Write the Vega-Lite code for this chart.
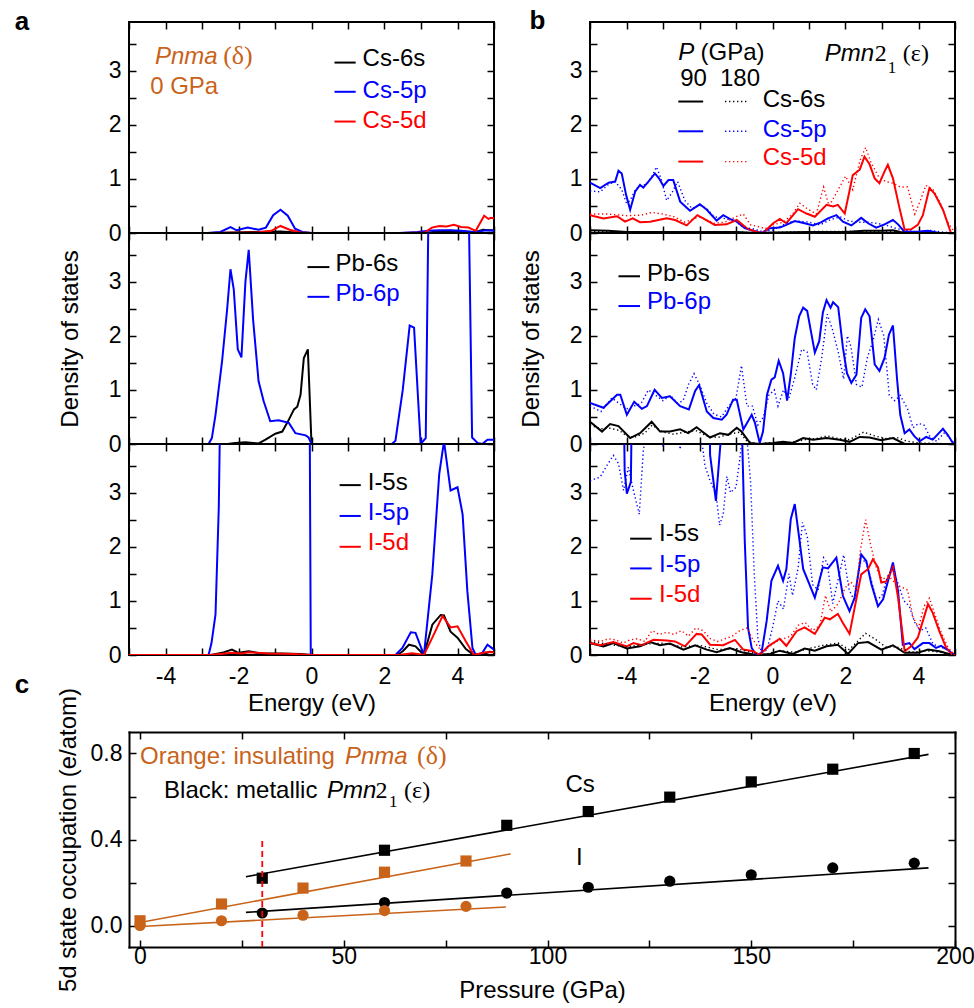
{
"$schema":"https://vega.github.io/schema/vega-lite/v6.json",
"background":"white",
"padding":{"left":13,"top":7,"right":5,"bottom":5},
"config":{
 "view":{"stroke":"#000000","strokeWidth":2},
 "axis":{"domain":false,"grid":false,"tickColor":"#000000","tickWidth":1.5,"tickSize":-7,"labelFont":"Liberation Sans","labelFontSize":23,"labelColor":"#000000","titleFont":"Liberation Sans","titleFontSize":24,"titleFontWeight":"normal","titleColor":"#000000","labelOverlap":false,"labelFlush":false,"labelBound":false,"domainColor":"#000000","domainWidth":2,"domainCap":"square"},
 "text":{"font":"Liberation Sans","fontSize":24,"baseline":"alphabetic","align":"left"},
 "rule":{"strokeWidth":2},
 "line":{"strokeWidth":2}
},
"datasets":{
"aCs":[
{"o":"s","E":-5,"D":0},{"o":"s","E":-2.8,"D":0},{"o":"s","E":-2.2,"D":0.01},{"o":"s","E":-1.6,"D":0.02},{"o":"s","E":-0.85,"D":0.03},{"o":"s","E":-0.4,"D":0.01},{"o":"s","E":0,"D":0},{"o":"s","E":3.2,"D":0},{"o":"s","E":3.4,"D":0.03},{"o":"s","E":3.8,"D":0.04},{"o":"s","E":4.2,"D":0.03},{"o":"s","E":4.5,"D":0.02},{"o":"s","E":4.7,"D":0.06},{"o":"s","E":4.85,"D":0.05},{"o":"s","E":5,"D":0.05},
{"o":"p","E":-5,"D":0},{"o":"p","E":-2.85,"D":0},{"o":"p","E":-2.5,"D":0.02},{"o":"p","E":-2.22,"D":0.11},{"o":"p","E":-2.05,"D":0.05},{"o":"p","E":-1.75,"D":0.1},{"o":"p","E":-1.45,"D":0.06},{"o":"p","E":-1.25,"D":0.1},{"o":"p","E":-1.05,"D":0.33},{"o":"p","E":-0.85,"D":0.43},{"o":"p","E":-0.65,"D":0.32},{"o":"p","E":-0.45,"D":0.08},{"o":"p","E":-0.25,"D":0.02},{"o":"p","E":0,"D":0},{"o":"p","E":2.4,"D":0},{"o":"p","E":2.9,"D":0.02},{"o":"p","E":3.2,"D":0.04},{"o":"p","E":3.5,"D":0.05},{"o":"p","E":3.8,"D":0.05},{"o":"p","E":4.1,"D":0.04},{"o":"p","E":4.4,"D":0.02},{"o":"p","E":4.6,"D":0.03},{"o":"p","E":4.8,"D":0.05},{"o":"p","E":5,"D":0.04},
{"o":"d","E":-5,"D":0},{"o":"d","E":-2.8,"D":0},{"o":"d","E":-1.5,"D":0.01},{"o":"d","E":-1.1,"D":0.04},{"o":"d","E":-0.85,"D":0.13},{"o":"d","E":-0.6,"D":0.06},{"o":"d","E":-0.3,"D":0.01},{"o":"d","E":0,"D":0},{"o":"d","E":2.5,"D":0},{"o":"d","E":3.1,"D":0.01},{"o":"d","E":3.3,"D":0.1},{"o":"d","E":3.5,"D":0.13},{"o":"d","E":3.7,"D":0.12},{"o":"d","E":3.9,"D":0.15},{"o":"d","E":4.1,"D":0.11},{"o":"d","E":4.3,"D":0.1},{"o":"d","E":4.5,"D":0.04},{"o":"d","E":4.73,"D":0.32},{"o":"d","E":4.85,"D":0.26},{"o":"d","E":4.92,"D":0.28},{"o":"d","E":5,"D":0.27}
],
"aPb":[
{"o":"s","E":-5,"D":0},{"o":"s","E":-2.3,"D":0},{"o":"s","E":-2.09,"D":0.02},{"o":"s","E":-1.81,"D":0.03},{"o":"s","E":-1.45,"D":0.01},{"o":"s","E":-1.26,"D":0.08},{"o":"s","E":-0.99,"D":0.19},{"o":"s","E":-0.8,"D":0.23},{"o":"s","E":-0.62,"D":0.45},{"o":"s","E":-0.48,"D":0.64},{"o":"s","E":-0.39,"D":0.69},{"o":"s","E":-0.3,"D":0.91},{"o":"s","E":-0.21,"D":1.59},{"o":"s","E":-0.1,"D":1.75},{"o":"s","E":0,"D":0},{"o":"s","E":5,"D":0},
{"o":"p","E":-5,"D":0},{"o":"p","E":-2.82,"D":0},{"o":"p","E":-2.73,"D":0.11},{"o":"p","E":-2.63,"D":0.54},{"o":"p","E":-2.45,"D":1.53},{"o":"p","E":-2.31,"D":2.5},{"o":"p","E":-2.22,"D":3.23},{"o":"p","E":-2.13,"D":2.86},{"o":"p","E":-2.02,"D":1.75},{"o":"p","E":-1.92,"D":1.6},{"o":"p","E":-1.81,"D":3.0},{"o":"p","E":-1.72,"D":3.59},{"o":"p","E":-1.6,"D":2.3},{"o":"p","E":-1.45,"D":1.16},{"o":"p","E":-1.31,"D":0.79},{"o":"p","E":-1.13,"D":0.42},{"o":"p","E":-0.9,"D":0.44},{"o":"p","E":-0.62,"D":0.39},{"o":"p","E":-0.44,"D":0.2},{"o":"p","E":-0.16,"D":0.16},{"o":"p","E":-0.08,"D":0.12},{"o":"p","E":0,"D":0},{"o":"p","E":2.2,"D":0},{"o":"p","E":2.3,"D":0.06},{"o":"p","E":2.5,"D":1.0},{"o":"p","E":2.69,"D":2.19},{"o":"p","E":2.81,"D":2.15},{"o":"p","E":2.99,"D":0},{"o":"p","E":3.13,"D":0.11},{"o":"p","E":3.27,"D":8},{"o":"p","E":4.23,"D":8},{"o":"p","E":4.4,"D":0.12},{"o":"p","E":4.55,"D":0.02},{"o":"p","E":4.68,"D":0},{"o":"p","E":4.82,"D":0.08},{"o":"p","E":5,"D":0.08}
],
"aI":[
{"o":"s","E":-5,"D":0},{"o":"s","E":-2.75,"D":0},{"o":"s","E":-2.45,"D":0.04},{"o":"s","E":-2.18,"D":0.1},{"o":"s","E":-2.0,"D":0.04},{"o":"s","E":-1.72,"D":0.07},{"o":"s","E":-1.4,"D":0.03},{"o":"s","E":-0.8,"D":0.03},{"o":"s","E":-0.3,"D":0.02},{"o":"s","E":0,"D":0},{"o":"s","E":2.35,"D":0},{"o":"s","E":2.5,"D":0.07},{"o":"s","E":2.67,"D":0.19},{"o":"s","E":2.85,"D":0.16},{"o":"s","E":3.08,"D":0},{"o":"s","E":3.31,"D":0.56},{"o":"s","E":3.54,"D":0.74},{"o":"s","E":3.63,"D":0.73},{"o":"s","E":3.81,"D":0.43},{"o":"s","E":4.0,"D":0.32},{"o":"s","E":4.23,"D":0.11},{"o":"s","E":4.41,"D":0.02},{"o":"s","E":4.68,"D":0},{"o":"s","E":4.87,"D":0.06},{"o":"s","E":5,"D":0.05},
{"o":"p","E":-5,"D":0},{"o":"p","E":-2.82,"D":0},{"o":"p","E":-2.74,"D":0.22},{"o":"p","E":-2.63,"D":0.75},{"o":"p","E":-2.54,"D":2.73},{"o":"p","E":-2.47,"D":6},{"o":"p","E":-0.06,"D":6},{"o":"p","E":-0.02,"D":0},{"o":"p","E":2.3,"D":0},{"o":"p","E":2.49,"D":0.13},{"o":"p","E":2.72,"D":0.42},{"o":"p","E":2.85,"D":0.41},{"o":"p","E":3.08,"D":0},{"o":"p","E":3.31,"D":1.49},{"o":"p","E":3.5,"D":3.35},{"o":"p","E":3.63,"D":3.95},{"o":"p","E":3.81,"D":3.04},{"o":"p","E":4.0,"D":3.1},{"o":"p","E":4.14,"D":2.6},{"o":"p","E":4.27,"D":1.18},{"o":"p","E":4.41,"D":0.13},{"o":"p","E":4.5,"D":0},{"o":"p","E":4.68,"D":0.04},{"o":"p","E":4.82,"D":0.19},{"o":"p","E":5,"D":0.1},
{"o":"d","E":-5,"D":0},{"o":"d","E":-2.8,"D":0},{"o":"d","E":-2.5,"D":0.02},{"o":"d","E":-2.18,"D":0.04},{"o":"d","E":-1.9,"D":0.03},{"o":"d","E":-1.72,"D":0.05},{"o":"d","E":-1.2,"D":0.03},{"o":"d","E":-0.5,"D":0.02},{"o":"d","E":0,"D":0},{"o":"d","E":2.4,"D":0},{"o":"d","E":2.76,"D":0.03},{"o":"d","E":3.08,"D":0},{"o":"d","E":3.31,"D":0.32},{"o":"d","E":3.59,"D":0.72},{"o":"d","E":3.81,"D":0.51},{"o":"d","E":4.0,"D":0.53},{"o":"d","E":4.23,"D":0.25},{"o":"d","E":4.45,"D":0},{"o":"d","E":4.77,"D":0.05},{"o":"d","E":5,"D":0.05}
],
"bCs":[
{"o":"s","P":90,"E":-5,"D":0.05},{"o":"s","P":90,"E":-4.5,"D":0.04},{"o":"s","P":90,"E":-4,"D":0.02},{"o":"s","P":90,"E":-3,"D":0.02},{"o":"s","P":90,"E":-2,"D":0.02},{"o":"s","P":90,"E":-1,"D":0.02},{"o":"s","P":90,"E":-0.4,"D":0},{"o":"s","P":90,"E":0,"D":0.01},{"o":"s","P":90,"E":1,"D":0.02},{"o":"s","P":90,"E":2,"D":0.02},{"o":"s","P":90,"E":2.5,"D":0.04},{"o":"s","P":90,"E":3,"D":0.04},{"o":"s","P":90,"E":3.3,"D":0.05},{"o":"s","P":90,"E":3.5,"D":0.02},{"o":"s","P":90,"E":3.7,"D":0},{"o":"s","P":90,"E":5,"D":0},
{"o":"s","P":180,"E":-5,"D":0.03},{"o":"s","P":180,"E":-4,"D":0.02},{"o":"s","P":180,"E":-3,"D":0.02},{"o":"s","P":180,"E":-2,"D":0.01},{"o":"s","P":180,"E":-1,"D":0.02},{"o":"s","P":180,"E":-0.4,"D":0},{"o":"s","P":180,"E":0.5,"D":0.02},{"o":"s","P":180,"E":1.5,"D":0.03},{"o":"s","P":180,"E":2.5,"D":0.03},{"o":"s","P":180,"E":3.3,"D":0.03},{"o":"s","P":180,"E":3.7,"D":0},{"o":"s","P":180,"E":5,"D":0},
{"o":"p","P":90,"E":-5,"D":0.93},{"o":"p","P":90,"E":-4.72,"D":0.83},{"o":"p","P":90,"E":-4.49,"D":0.93},{"o":"p","P":90,"E":-4.31,"D":0.95},{"o":"p","P":90,"E":-4.22,"D":1.15},{"o":"p","P":90,"E":-4.13,"D":1.1},{"o":"p","P":90,"E":-4.01,"D":0.7},{"o":"p","P":90,"E":-3.9,"D":0.43},{"o":"p","P":90,"E":-3.76,"D":0.77},{"o":"p","P":90,"E":-3.63,"D":0.89},{"o":"p","P":90,"E":-3.54,"D":0.84},{"o":"p","P":90,"E":-3.4,"D":0.95},{"o":"p","P":90,"E":-3.22,"D":1.1},{"o":"p","P":90,"E":-3.11,"D":1.01},{"o":"p","P":90,"E":-2.99,"D":0.87},{"o":"p","P":90,"E":-2.85,"D":0.98},{"o":"p","P":90,"E":-2.72,"D":0.98},{"o":"p","P":90,"E":-2.53,"D":0.58},{"o":"p","P":90,"E":-2.26,"D":0.41},{"o":"p","P":90,"E":-1.99,"D":0.53},{"o":"p","P":90,"E":-1.8,"D":0.43},{"o":"p","P":90,"E":-1.53,"D":0.23},{"o":"p","P":90,"E":-1.35,"D":0.33},{"o":"p","P":90,"E":-1.17,"D":0.26},{"o":"p","P":90,"E":-0.98,"D":0.21},{"o":"p","P":90,"E":-0.76,"D":0.09},{"o":"p","P":90,"E":-0.53,"D":0.04},{"o":"p","P":90,"E":-0.3,"D":0},{"o":"p","P":90,"E":-0.07,"D":0.09},{"o":"p","P":90,"E":0.2,"D":0.1},{"o":"p","P":90,"E":0.38,"D":0.15},{"o":"p","P":90,"E":0.61,"D":0.22},{"o":"p","P":90,"E":0.88,"D":0.18},{"o":"p","P":90,"E":1.11,"D":0.14},{"o":"p","P":90,"E":1.34,"D":0.2},{"o":"p","P":90,"E":1.52,"D":0.27},{"o":"p","P":90,"E":1.75,"D":0.33},{"o":"p","P":90,"E":1.93,"D":0.21},{"o":"p","P":90,"E":2.16,"D":0.14},{"o":"p","P":90,"E":2.43,"D":0.28},{"o":"p","P":90,"E":2.62,"D":0.18},{"o":"p","P":90,"E":2.84,"D":0.1},{"o":"p","P":90,"E":3.07,"D":0.16},{"o":"p","P":90,"E":3.3,"D":0.24},{"o":"p","P":90,"E":3.44,"D":0.16},{"o":"p","P":90,"E":3.62,"D":0.02},{"o":"p","P":90,"E":4.03,"D":0.03},{"o":"p","P":90,"E":4.26,"D":0.04},{"o":"p","P":90,"E":4.57,"D":0},{"o":"p","P":90,"E":5,"D":0},
{"o":"p","P":180,"E":-5,"D":0.78},{"o":"p","P":180,"E":-4.72,"D":0.76},{"o":"p","P":180,"E":-4.49,"D":0.9},{"o":"p","P":180,"E":-4.31,"D":0.95},{"o":"p","P":180,"E":-4.13,"D":0.8},{"o":"p","P":180,"E":-4.0,"D":0.55},{"o":"p","P":180,"E":-3.9,"D":0.6},{"o":"p","P":180,"E":-3.76,"D":0.8},{"o":"p","P":180,"E":-3.63,"D":0.87},{"o":"p","P":180,"E":-3.45,"D":0.9},{"o":"p","P":180,"E":-3.3,"D":1.05},{"o":"p","P":180,"E":-3.18,"D":1.22},{"o":"p","P":180,"E":-3.05,"D":1.0},{"o":"p","P":180,"E":-2.9,"D":0.6},{"o":"p","P":180,"E":-2.75,"D":0.75},{"o":"p","P":180,"E":-2.6,"D":0.95},{"o":"p","P":180,"E":-2.4,"D":0.6},{"o":"p","P":180,"E":-2.2,"D":0.45},{"o":"p","P":180,"E":-2.0,"D":0.52},{"o":"p","P":180,"E":-1.8,"D":0.45},{"o":"p","P":180,"E":-1.6,"D":0.3},{"o":"p","P":180,"E":-1.4,"D":0.28},{"o":"p","P":180,"E":-1.2,"D":0.25},{"o":"p","P":180,"E":-1.0,"D":0.22},{"o":"p","P":180,"E":-0.8,"D":0.1},{"o":"p","P":180,"E":-0.55,"D":0.08},{"o":"p","P":180,"E":-0.3,"D":0.03},{"o":"p","P":180,"E":0,"D":0.05},{"o":"p","P":180,"E":0.2,"D":0.12},{"o":"p","P":180,"E":0.45,"D":0.2},{"o":"p","P":180,"E":0.7,"D":0.22},{"o":"p","P":180,"E":1.0,"D":0.2},{"o":"p","P":180,"E":1.3,"D":0.15},{"o":"p","P":180,"E":1.6,"D":0.25},{"o":"p","P":180,"E":1.85,"D":0.3},{"o":"p","P":180,"E":2.1,"D":0.22},{"o":"p","P":180,"E":2.35,"D":0.2},{"o":"p","P":180,"E":2.6,"D":0.2},{"o":"p","P":180,"E":2.85,"D":0.18},{"o":"p","P":180,"E":3.1,"D":0.15},{"o":"p","P":180,"E":3.3,"D":0.1},{"o":"p","P":180,"E":3.6,"D":0.05},{"o":"p","P":180,"E":4.0,"D":0.02},{"o":"p","P":180,"E":4.3,"D":0.05},{"o":"p","P":180,"E":4.6,"D":0.02},{"o":"p","P":180,"E":5,"D":0},
{"o":"d","P":90,"E":-5,"D":0.33},{"o":"d","P":90,"E":-4.63,"D":0.27},{"o":"d","P":90,"E":-4.26,"D":0.31},{"o":"d","P":90,"E":-4.04,"D":0.21},{"o":"d","P":90,"E":-3.83,"D":0.27},{"o":"d","P":90,"E":-3.63,"D":0.2},{"o":"d","P":90,"E":-3.35,"D":0.21},{"o":"d","P":90,"E":-2.9,"D":0.27},{"o":"d","P":90,"E":-2.67,"D":0.24},{"o":"d","P":90,"E":-2.35,"D":0.14},{"o":"d","P":90,"E":-2.06,"D":0.33},{"o":"d","P":90,"E":-1.9,"D":0.27},{"o":"d","P":90,"E":-1.58,"D":0.15},{"o":"d","P":90,"E":-1.26,"D":0.16},{"o":"d","P":90,"E":-0.98,"D":0.24},{"o":"d","P":90,"E":-0.71,"D":0.09},{"o":"d","P":90,"E":-0.44,"D":0.02},{"o":"d","P":90,"E":-0.26,"D":0},{"o":"d","P":90,"E":0.02,"D":0.18},{"o":"d","P":90,"E":0.2,"D":0.26},{"o":"d","P":90,"E":0.38,"D":0.18},{"o":"d","P":90,"E":0.7,"D":0.44},{"o":"d","P":90,"E":0.93,"D":0.36},{"o":"d","P":90,"E":1.16,"D":0.3},{"o":"d","P":90,"E":1.48,"D":0.52},{"o":"d","P":90,"E":1.66,"D":0.49},{"o":"d","P":90,"E":1.79,"D":0.52},{"o":"d","P":90,"E":1.98,"D":0.36},{"o":"d","P":90,"E":2.2,"D":1.07},{"o":"d","P":90,"E":2.39,"D":1.17},{"o":"d","P":90,"E":2.52,"D":1.41},{"o":"d","P":90,"E":2.66,"D":1.27},{"o":"d","P":90,"E":2.8,"D":1.01},{"o":"d","P":90,"E":2.93,"D":0.92},{"o":"d","P":90,"E":3.07,"D":1.14},{"o":"d","P":90,"E":3.16,"D":1.26},{"o":"d","P":90,"E":3.3,"D":1.01},{"o":"d","P":90,"E":3.48,"D":0.46},{"o":"d","P":90,"E":3.62,"D":0.06},{"o":"d","P":90,"E":3.8,"D":0.07},{"o":"d","P":90,"E":3.98,"D":0.15},{"o":"d","P":90,"E":4.12,"D":0.33},{"o":"d","P":90,"E":4.3,"D":0.83},{"o":"d","P":90,"E":4.44,"D":0.73},{"o":"d","P":90,"E":4.67,"D":0.43},{"o":"d","P":90,"E":4.89,"D":0},{"o":"d","P":90,"E":5,"D":0},
{"o":"d","P":180,"E":-5,"D":0.35},{"o":"d","P":180,"E":-4.5,"D":0.35},{"o":"d","P":180,"E":-4.0,"D":0.32},{"o":"d","P":180,"E":-3.6,"D":0.33},{"o":"d","P":180,"E":-3.3,"D":0.38},{"o":"d","P":180,"E":-3.0,"D":0.35},{"o":"d","P":180,"E":-2.7,"D":0.3},{"o":"d","P":180,"E":-2.4,"D":0.2},{"o":"d","P":180,"E":-2.0,"D":0.3},{"o":"d","P":180,"E":-1.6,"D":0.18},{"o":"d","P":180,"E":-1.3,"D":0.2},{"o":"d","P":180,"E":-1.0,"D":0.3},{"o":"d","P":180,"E":-0.8,"D":0.35},{"o":"d","P":180,"E":-0.6,"D":0.15},{"o":"d","P":180,"E":-0.4,"D":0.12},{"o":"d","P":180,"E":-0.2,"D":0.08},{"o":"d","P":180,"E":0,"D":0.15},{"o":"d","P":180,"E":0.3,"D":0.2},{"o":"d","P":180,"E":0.55,"D":0.35},{"o":"d","P":180,"E":0.75,"D":0.55},{"o":"d","P":180,"E":0.95,"D":0.45},{"o":"d","P":180,"E":1.2,"D":0.35},{"o":"d","P":180,"E":1.4,"D":0.85},{"o":"d","P":180,"E":1.55,"D":0.5},{"o":"d","P":180,"E":1.8,"D":0.8},{"o":"d","P":180,"E":2.0,"D":1.05},{"o":"d","P":180,"E":2.2,"D":0.8},{"o":"d","P":180,"E":2.4,"D":1.35},{"o":"d","P":180,"E":2.55,"D":1.58},{"o":"d","P":180,"E":2.7,"D":1.3},{"o":"d","P":180,"E":2.9,"D":1.05},{"o":"d","P":180,"E":3.1,"D":0.95},{"o":"d","P":180,"E":3.3,"D":0.92},{"o":"d","P":180,"E":3.5,"D":0.85},{"o":"d","P":180,"E":3.7,"D":0.85},{"o":"d","P":180,"E":3.9,"D":0.35},{"o":"d","P":180,"E":4.05,"D":0.6},{"o":"d","P":180,"E":4.2,"D":0.88},{"o":"d","P":180,"E":4.4,"D":0.8},{"o":"d","P":180,"E":4.6,"D":0.55},{"o":"d","P":180,"E":4.8,"D":0.2},{"o":"d","P":180,"E":5,"D":0}
],
"bPb":[
{"o":"s","P":90,"E":-5,"D":0.41},{"o":"s","P":90,"E":-4.67,"D":0.23},{"o":"s","P":90,"E":-4.45,"D":0.37},{"o":"s","P":90,"E":-4.22,"D":0.33},{"o":"s","P":90,"E":-3.9,"D":0.11},{"o":"s","P":90,"E":-3.63,"D":0.2},{"o":"s","P":90,"E":-3.31,"D":0.41},{"o":"s","P":90,"E":-3.08,"D":0.23},{"o":"s","P":90,"E":-2.81,"D":0.23},{"o":"s","P":90,"E":-2.53,"D":0.27},{"o":"s","P":90,"E":-2.31,"D":0.2},{"o":"s","P":90,"E":-2.08,"D":0.31},{"o":"s","P":90,"E":-1.71,"D":0.12},{"o":"s","P":90,"E":-1.44,"D":0.2},{"o":"s","P":90,"E":-1.21,"D":0.17},{"o":"s","P":90,"E":-0.98,"D":0.3},{"o":"s","P":90,"E":-0.85,"D":0.23},{"o":"s","P":90,"E":-0.62,"D":0.02},{"o":"s","P":90,"E":-0.35,"D":0},{"o":"s","P":90,"E":0.02,"D":0.02},{"o":"s","P":90,"E":0.29,"D":0.04},{"o":"s","P":90,"E":0.56,"D":0.02},{"o":"s","P":90,"E":0.84,"D":0.11},{"o":"s","P":90,"E":1.11,"D":0.08},{"o":"s","P":90,"E":1.48,"D":0.11},{"o":"s","P":90,"E":1.84,"D":0.08},{"o":"s","P":90,"E":2.11,"D":0.04},{"o":"s","P":90,"E":2.39,"D":0.13},{"o":"s","P":90,"E":2.66,"D":0.12},{"o":"s","P":90,"E":2.98,"D":0.07},{"o":"s","P":90,"E":3.3,"D":0.11},{"o":"s","P":90,"E":3.62,"D":0},{"o":"s","P":90,"E":5,"D":0},
{"o":"s","P":180,"E":-5,"D":0.35},{"o":"s","P":180,"E":-4.7,"D":0.28},{"o":"s","P":180,"E":-4.5,"D":0.3},{"o":"s","P":180,"E":-4.2,"D":0.25},{"o":"s","P":180,"E":-4.0,"D":0.15},{"o":"s","P":180,"E":-3.8,"D":0.12},{"o":"s","P":180,"E":-3.5,"D":0.2},{"o":"s","P":180,"E":-3.3,"D":0.35},{"o":"s","P":180,"E":-3.0,"D":0.22},{"o":"s","P":180,"E":-2.7,"D":0.18},{"o":"s","P":180,"E":-2.4,"D":0.22},{"o":"s","P":180,"E":-2.1,"D":0.25},{"o":"s","P":180,"E":-1.8,"D":0.15},{"o":"s","P":180,"E":-1.5,"D":0.12},{"o":"s","P":180,"E":-1.2,"D":0.18},{"o":"s","P":180,"E":-0.9,"D":0.22},{"o":"s","P":180,"E":-0.7,"D":0.05},{"o":"s","P":180,"E":-0.4,"D":0},{"o":"s","P":180,"E":0,"D":0.03},{"o":"s","P":180,"E":0.5,"D":0.03},{"o":"s","P":180,"E":0.9,"D":0.08},{"o":"s","P":180,"E":1.2,"D":0.1},{"o":"s","P":180,"E":1.5,"D":0.15},{"o":"s","P":180,"E":1.8,"D":0.1},{"o":"s","P":180,"E":2.1,"D":0.08},{"o":"s","P":180,"E":2.5,"D":0.22},{"o":"s","P":180,"E":2.8,"D":0.15},{"o":"s","P":180,"E":3.1,"D":0.1},{"o":"s","P":180,"E":3.4,"D":0.12},{"o":"s","P":180,"E":3.7,"D":0.05},{"o":"s","P":180,"E":4.0,"D":0.02},{"o":"s","P":180,"E":5,"D":0},
{"o":"p","P":90,"E":-5,"D":0.76},{"o":"p","P":90,"E":-4.63,"D":0.67},{"o":"p","P":90,"E":-4.26,"D":0.91},{"o":"p","P":90,"E":-4.17,"D":0.91},{"o":"p","P":90,"E":-3.99,"D":0.54},{"o":"p","P":90,"E":-3.79,"D":0.78},{"o":"p","P":90,"E":-3.58,"D":0.65},{"o":"p","P":90,"E":-3.44,"D":0.7},{"o":"p","P":90,"E":-3.23,"D":1.0},{"o":"p","P":90,"E":-3.03,"D":0.85},{"o":"p","P":90,"E":-2.81,"D":0.88},{"o":"p","P":90,"E":-2.53,"D":0.7},{"o":"p","P":90,"E":-2.29,"D":0.64},{"o":"p","P":90,"E":-2.12,"D":0.98},{"o":"p","P":90,"E":-2.01,"D":1.09},{"o":"p","P":90,"E":-1.8,"D":0.6},{"o":"p","P":90,"E":-1.62,"D":0.48},{"o":"p","P":90,"E":-1.39,"D":0.45},{"o":"p","P":90,"E":-1.26,"D":0.54},{"o":"p","P":90,"E":-1.08,"D":0.82},{"o":"p","P":90,"E":-0.98,"D":0.82},{"o":"p","P":90,"E":-0.8,"D":0.27},{"o":"p","P":90,"E":-0.57,"D":0.54},{"o":"p","P":90,"E":-0.48,"D":0.39},{"o":"p","P":90,"E":-0.35,"D":0.02},{"o":"p","P":90,"E":-0.26,"D":0.23},{"o":"p","P":90,"E":-0.15,"D":0.91},{"o":"p","P":90,"E":-0.03,"D":1.19},{"o":"p","P":90,"E":0.06,"D":1.23},{"o":"p","P":90,"E":0.17,"D":1.54},{"o":"p","P":90,"E":0.29,"D":1.31},{"o":"p","P":90,"E":0.4,"D":0.8},{"o":"p","P":90,"E":0.5,"D":1.28},{"o":"p","P":90,"E":0.61,"D":1.96},{"o":"p","P":90,"E":0.73,"D":2.36},{"o":"p","P":90,"E":0.84,"D":2.52},{"o":"p","P":90,"E":0.95,"D":2.46},{"o":"p","P":90,"E":1.16,"D":1.69},{"o":"p","P":90,"E":1.28,"D":1.9},{"o":"p","P":90,"E":1.38,"D":2.43},{"o":"p","P":90,"E":1.48,"D":2.66},{"o":"p","P":90,"E":1.59,"D":2.52},{"o":"p","P":90,"E":1.66,"D":2.62},{"o":"p","P":90,"E":1.8,"D":2.53},{"o":"p","P":90,"E":1.93,"D":1.78},{"o":"p","P":90,"E":2.04,"D":1.31},{"o":"p","P":90,"E":2.16,"D":1.13},{"o":"p","P":90,"E":2.3,"D":1.28},{"o":"p","P":90,"E":2.43,"D":2.33},{"o":"p","P":90,"E":2.54,"D":2.49},{"o":"p","P":90,"E":2.66,"D":2.36},{"o":"p","P":90,"E":2.8,"D":1.47},{"o":"p","P":90,"E":2.93,"D":1.35},{"o":"p","P":90,"E":3.07,"D":1.59},{"o":"p","P":90,"E":3.19,"D":2.02},{"o":"p","P":90,"E":3.3,"D":2.19},{"o":"p","P":90,"E":3.41,"D":1.22},{"o":"p","P":90,"E":3.5,"D":0.54},{"o":"p","P":90,"E":3.62,"D":0.2},{"o":"p","P":90,"E":3.75,"D":0.27},{"o":"p","P":90,"E":3.89,"D":0.14},{"o":"p","P":90,"E":4.03,"D":0.05},{"o":"p","P":90,"E":4.21,"D":0.13},{"o":"p","P":90,"E":4.39,"D":0.08},{"o":"p","P":90,"E":4.67,"D":0.28},{"o":"p","P":90,"E":4.8,"D":0.17},{"o":"p","P":90,"E":4.94,"D":0.02},{"o":"p","P":90,"E":5,"D":0},
{"o":"p","P":180,"E":-5,"D":0.7},{"o":"p","P":180,"E":-4.7,"D":0.6},{"o":"p","P":180,"E":-4.4,"D":0.85},{"o":"p","P":180,"E":-4.2,"D":0.75},{"o":"p","P":180,"E":-4.0,"D":0.65},{"o":"p","P":180,"E":-3.8,"D":0.7},{"o":"p","P":180,"E":-3.6,"D":0.75},{"o":"p","P":180,"E":-3.4,"D":1.0},{"o":"p","P":180,"E":-3.2,"D":0.9},{"o":"p","P":180,"E":-3.0,"D":0.8},{"o":"p","P":180,"E":-2.8,"D":0.9},{"o":"p","P":180,"E":-2.6,"D":0.75},{"o":"p","P":180,"E":-2.45,"D":0.8},{"o":"p","P":180,"E":-2.3,"D":1.1},{"o":"p","P":180,"E":-2.15,"D":1.3},{"o":"p","P":180,"E":-2.0,"D":1.1},{"o":"p","P":180,"E":-1.8,"D":0.75},{"o":"p","P":180,"E":-1.6,"D":0.55},{"o":"p","P":180,"E":-1.4,"D":0.5},{"o":"p","P":180,"E":-1.2,"D":0.7},{"o":"p","P":180,"E":-1.0,"D":0.85},{"o":"p","P":180,"E":-0.85,"D":1.45},{"o":"p","P":180,"E":-0.7,"D":0.7},{"o":"p","P":180,"E":-0.55,"D":0.7},{"o":"p","P":180,"E":-0.4,"D":0.35},{"o":"p","P":180,"E":-0.25,"D":0.5},{"o":"p","P":180,"E":-0.1,"D":0.9},{"o":"p","P":180,"E":0.05,"D":1.0},{"o":"p","P":180,"E":0.15,"D":0.7},{"o":"p","P":180,"E":0.3,"D":1.0},{"o":"p","P":180,"E":0.45,"D":0.85},{"o":"p","P":180,"E":0.6,"D":1.2},{"o":"p","P":180,"E":0.8,"D":1.75},{"o":"p","P":180,"E":0.95,"D":1.7},{"o":"p","P":180,"E":1.1,"D":1.1},{"o":"p","P":180,"E":1.2,"D":1.0},{"o":"p","P":180,"E":1.35,"D":1.6},{"o":"p","P":180,"E":1.5,"D":2.4},{"o":"p","P":180,"E":1.65,"D":2.1},{"o":"p","P":180,"E":1.8,"D":1.7},{"o":"p","P":180,"E":1.95,"D":1.2},{"o":"p","P":180,"E":2.05,"D":2.0},{"o":"p","P":180,"E":2.15,"D":1.8},{"o":"p","P":180,"E":2.3,"D":1.1},{"o":"p","P":180,"E":2.45,"D":1.05},{"o":"p","P":180,"E":2.6,"D":1.6},{"o":"p","P":180,"E":2.75,"D":1.9},{"o":"p","P":180,"E":2.9,"D":2.3},{"o":"p","P":180,"E":3.05,"D":2.0},{"o":"p","P":180,"E":3.2,"D":0.9},{"o":"p","P":180,"E":3.35,"D":0.8},{"o":"p","P":180,"E":3.5,"D":0.9},{"o":"p","P":180,"E":3.7,"D":0.65},{"o":"p","P":180,"E":3.85,"D":0.3},{"o":"p","P":180,"E":4.0,"D":0.38},{"o":"p","P":180,"E":4.15,"D":0.35},{"o":"p","P":180,"E":4.3,"D":0.15},{"o":"p","P":180,"E":4.5,"D":0.05},{"o":"p","P":180,"E":4.7,"D":0.2},{"o":"p","P":180,"E":4.85,"D":0.12},{"o":"p","P":180,"E":5,"D":0}
],
"bI":[
{"o":"s","P":90,"E":-5,"D":0.22},{"o":"s","P":90,"E":-4.63,"D":0.16},{"o":"s","P":90,"E":-4.36,"D":0.22},{"o":"s","P":90,"E":-3.99,"D":0.12},{"o":"s","P":90,"E":-3.63,"D":0.16},{"o":"s","P":90,"E":-3.35,"D":0.24},{"o":"s","P":90,"E":-3.08,"D":0.18},{"o":"s","P":90,"E":-2.81,"D":0.21},{"o":"s","P":90,"E":-2.44,"D":0.1},{"o":"s","P":90,"E":-2.12,"D":0.18},{"o":"s","P":90,"E":-1.8,"D":0.1},{"o":"s","P":90,"E":-1.53,"D":0.05},{"o":"s","P":90,"E":-1.17,"D":0.13},{"o":"s","P":90,"E":-0.85,"D":0.05},{"o":"s","P":90,"E":-0.44,"D":0},{"o":"s","P":90,"E":-0.07,"D":0.02},{"o":"s","P":90,"E":0.2,"D":0.08},{"o":"s","P":90,"E":0.56,"D":0.02},{"o":"s","P":90,"E":0.88,"D":0.12},{"o":"s","P":90,"E":1.16,"D":0.08},{"o":"s","P":90,"E":1.48,"D":0.16},{"o":"s","P":90,"E":1.79,"D":0.19},{"o":"s","P":90,"E":2.07,"D":0.02},{"o":"s","P":90,"E":2.34,"D":0.22},{"o":"s","P":90,"E":2.62,"D":0.24},{"o":"s","P":90,"E":2.98,"D":0.1},{"o":"s","P":90,"E":3.3,"D":0.18},{"o":"s","P":90,"E":3.62,"D":0.04},{"o":"s","P":90,"E":3.98,"D":0.04},{"o":"s","P":90,"E":4.26,"D":0.1},{"o":"s","P":90,"E":4.57,"D":0.07},{"o":"s","P":90,"E":4.94,"D":0},{"o":"s","P":90,"E":5,"D":0},
{"o":"s","P":180,"E":-5,"D":0.25},{"o":"s","P":180,"E":-4.5,"D":0.2},{"o":"s","P":180,"E":-4.0,"D":0.15},{"o":"s","P":180,"E":-3.5,"D":0.2},{"o":"s","P":180,"E":-3.0,"D":0.22},{"o":"s","P":180,"E":-2.5,"D":0.15},{"o":"s","P":180,"E":-2.0,"D":0.18},{"o":"s","P":180,"E":-1.5,"D":0.1},{"o":"s","P":180,"E":-1.0,"D":0.12},{"o":"s","P":180,"E":-0.6,"D":0.05},{"o":"s","P":180,"E":-0.3,"D":0},{"o":"s","P":180,"E":0.2,"D":0.08},{"o":"s","P":180,"E":0.6,"D":0.05},{"o":"s","P":180,"E":1.0,"D":0.12},{"o":"s","P":180,"E":1.4,"D":0.18},{"o":"s","P":180,"E":1.8,"D":0.22},{"o":"s","P":180,"E":2.1,"D":0.1},{"o":"s","P":180,"E":2.55,"D":0.4},{"o":"s","P":180,"E":2.8,"D":0.3},{"o":"s","P":180,"E":3.1,"D":0.15},{"o":"s","P":180,"E":3.4,"D":0.15},{"o":"s","P":180,"E":3.8,"D":0.05},{"o":"s","P":180,"E":4.2,"D":0.08},{"o":"s","P":180,"E":4.6,"D":0.05},{"o":"s","P":180,"E":5,"D":0},
{"o":"p","P":90,"E":-5,"D":6},{"o":"p","P":90,"E":-4.1,"D":6},{"o":"p","P":90,"E":-4.05,"D":3.4},{"o":"p","P":90,"E":-3.99,"D":2.98},{"o":"p","P":90,"E":-3.88,"D":3.2},{"o":"p","P":90,"E":-3.83,"D":6},{"o":"p","P":90,"E":-1.75,"D":6},{"o":"p","P":90,"E":-1.71,"D":3.7},{"o":"p","P":90,"E":-1.55,"D":2.85},{"o":"p","P":90,"E":-1.38,"D":4.3},{"o":"p","P":90,"E":-1.3,"D":6},{"o":"p","P":90,"E":-0.88,"D":6},{"o":"p","P":90,"E":-0.85,"D":4.5},{"o":"p","P":90,"E":-0.76,"D":2.11},{"o":"p","P":90,"E":-0.67,"D":0.5},{"o":"p","P":90,"E":-0.57,"D":0.13},{"o":"p","P":90,"E":-0.44,"D":0},{"o":"p","P":90,"E":-0.3,"D":0.04},{"o":"p","P":90,"E":-0.16,"D":0.63},{"o":"p","P":90,"E":-0.03,"D":1.37},{"o":"p","P":90,"E":0.15,"D":1.65},{"o":"p","P":90,"E":0.29,"D":1.37},{"o":"p","P":90,"E":0.38,"D":1.59},{"o":"p","P":90,"E":0.5,"D":2.51},{"o":"p","P":90,"E":0.61,"D":2.79},{"o":"p","P":90,"E":0.73,"D":2.17},{"o":"p","P":90,"E":0.84,"D":1.59},{"o":"p","P":90,"E":1.16,"D":1.06},{"o":"p","P":90,"E":1.38,"D":1.62},{"o":"p","P":90,"E":1.52,"D":1.6},{"o":"p","P":90,"E":1.75,"D":1.8},{"o":"p","P":90,"E":1.93,"D":1.09},{"o":"p","P":90,"E":2.11,"D":0.81},{"o":"p","P":90,"E":2.25,"D":1.06},{"o":"p","P":90,"E":2.43,"D":1.86},{"o":"p","P":90,"E":2.57,"D":1.74},{"o":"p","P":90,"E":2.71,"D":1.31},{"o":"p","P":90,"E":2.89,"D":0.9},{"o":"p","P":90,"E":3.03,"D":1.03},{"o":"p","P":90,"E":3.3,"D":1.71},{"o":"p","P":90,"E":3.44,"D":1.18},{"o":"p","P":90,"E":3.57,"D":0.19},{"o":"p","P":90,"E":3.75,"D":0.22},{"o":"p","P":90,"E":3.89,"D":0.11},{"o":"p","P":90,"E":4.12,"D":0.22},{"o":"p","P":90,"E":4.3,"D":0.22},{"o":"p","P":90,"E":4.48,"D":0.13},{"o":"p","P":90,"E":4.62,"D":0.17},{"o":"p","P":90,"E":4.85,"D":0.07},{"o":"p","P":90,"E":4.98,"D":0},{"o":"p","P":90,"E":5,"D":0},
{"o":"p","P":180,"E":-5,"D":3.22},{"o":"p","P":180,"E":-4.72,"D":3.29},{"o":"p","P":180,"E":-4.54,"D":3.5},{"o":"p","P":180,"E":-4.36,"D":3.69},{"o":"p","P":180,"E":-4.22,"D":3.54},{"o":"p","P":180,"E":-4.08,"D":3.04},{"o":"p","P":180,"E":-3.95,"D":3.47},{"o":"p","P":180,"E":-3.81,"D":3.04},{"o":"p","P":180,"E":-3.65,"D":2.6},{"o":"p","P":180,"E":-3.54,"D":3.78},{"o":"p","P":180,"E":-3.4,"D":4.3},{"o":"p","P":180,"E":-3.1,"D":4.3},{"o":"p","P":180,"E":-3.0,"D":3.85},{"o":"p","P":180,"E":-2.85,"D":4.3},{"o":"p","P":180,"E":-2.6,"D":4.3},{"o":"p","P":180,"E":-2.53,"D":3.8},{"o":"p","P":180,"E":-2.45,"D":4.3},{"o":"p","P":180,"E":-2.0,"D":4.3},{"o":"p","P":180,"E":-1.85,"D":3.5},{"o":"p","P":180,"E":-1.7,"D":3.2},{"o":"p","P":180,"E":-1.55,"D":3.0},{"o":"p","P":180,"E":-1.45,"D":2.4},{"o":"p","P":180,"E":-1.35,"D":2.6},{"o":"p","P":180,"E":-1.25,"D":3.3},{"o":"p","P":180,"E":-1.15,"D":3.0},{"o":"p","P":180,"E":-1.0,"D":3.1},{"o":"p","P":180,"E":-0.9,"D":3.6},{"o":"p","P":180,"E":-0.8,"D":4.2},{"o":"p","P":180,"E":-0.7,"D":4.0},{"o":"p","P":180,"E":-0.6,"D":3.2},{"o":"p","P":180,"E":-0.5,"D":1.5},{"o":"p","P":180,"E":-0.4,"D":0.3},{"o":"p","P":180,"E":-0.3,"D":0.05},{"o":"p","P":180,"E":-0.15,"D":0.1},{"o":"p","P":180,"E":0,"D":0.5},{"o":"p","P":180,"E":0.15,"D":1.0},{"o":"p","P":180,"E":0.3,"D":0.85},{"o":"p","P":180,"E":0.45,"D":1.5},{"o":"p","P":180,"E":0.55,"D":1.1},{"o":"p","P":180,"E":0.7,"D":1.6},{"o":"p","P":180,"E":0.82,"D":2.45},{"o":"p","P":180,"E":0.95,"D":2.2},{"o":"p","P":180,"E":1.1,"D":1.3},{"o":"p","P":180,"E":1.25,"D":1.2},{"o":"p","P":180,"E":1.4,"D":1.8},{"o":"p","P":180,"E":1.5,"D":1.7},{"o":"p","P":180,"E":1.65,"D":0.95},{"o":"p","P":180,"E":1.8,"D":1.4},{"o":"p","P":180,"E":1.95,"D":1.85},{"o":"p","P":180,"E":2.1,"D":1.2},{"o":"p","P":180,"E":2.25,"D":1.0},{"o":"p","P":180,"E":2.4,"D":1.7},{"o":"p","P":180,"E":2.55,"D":1.75},{"o":"p","P":180,"E":2.7,"D":1.4},{"o":"p","P":180,"E":2.85,"D":1.0},{"o":"p","P":180,"E":3.0,"D":1.1},{"o":"p","P":180,"E":3.15,"D":1.45},{"o":"p","P":180,"E":3.3,"D":1.6},{"o":"p","P":180,"E":3.45,"D":1.3},{"o":"p","P":180,"E":3.6,"D":1.0},{"o":"p","P":180,"E":3.75,"D":0.9},{"o":"p","P":180,"E":3.9,"D":0.6},{"o":"p","P":180,"E":4.05,"D":0.45},{"o":"p","P":180,"E":4.2,"D":0.5},{"o":"p","P":180,"E":4.4,"D":0.2},{"o":"p","P":180,"E":4.6,"D":0.15},{"o":"p","P":180,"E":4.8,"D":0.1},{"o":"p","P":180,"E":5,"D":0},
{"o":"d","P":90,"E":-5,"D":0.22},{"o":"d","P":90,"E":-4.72,"D":0.18},{"o":"d","P":90,"E":-4.36,"D":0.24},{"o":"d","P":90,"E":-3.99,"D":0.16},{"o":"d","P":90,"E":-3.81,"D":0.22},{"o":"d","P":90,"E":-3.58,"D":0.18},{"o":"d","P":90,"E":-3.26,"D":0.28},{"o":"d","P":90,"E":-2.9,"D":0.27},{"o":"d","P":90,"E":-2.67,"D":0.25},{"o":"d","P":90,"E":-2.4,"D":0.16},{"o":"d","P":90,"E":-2.08,"D":0.39},{"o":"d","P":90,"E":-1.94,"D":0.38},{"o":"d","P":90,"E":-1.71,"D":0.19},{"o":"d","P":90,"E":-1.35,"D":0.18},{"o":"d","P":90,"E":-1.03,"D":0.28},{"o":"d","P":90,"E":-0.8,"D":0.1},{"o":"d","P":90,"E":-0.53,"D":0.07},{"o":"d","P":90,"E":-0.35,"D":0},{"o":"d","P":90,"E":-0.12,"D":0.16},{"o":"d","P":90,"E":0.2,"D":0.3},{"o":"d","P":90,"E":0.38,"D":0.17},{"o":"d","P":90,"E":0.66,"D":0.44},{"o":"d","P":90,"E":0.88,"D":0.51},{"o":"d","P":90,"E":1.16,"D":0.39},{"o":"d","P":90,"E":1.43,"D":0.69},{"o":"d","P":90,"E":1.57,"D":0.66},{"o":"d","P":90,"E":1.79,"D":0.76},{"o":"d","P":90,"E":1.93,"D":0.59},{"o":"d","P":90,"E":2.11,"D":0.39},{"o":"d","P":90,"E":2.25,"D":0.87},{"o":"d","P":90,"E":2.43,"D":1.49},{"o":"d","P":90,"E":2.62,"D":1.59},{"o":"d","P":90,"E":2.75,"D":1.77},{"o":"d","P":90,"E":2.89,"D":1.62},{"o":"d","P":90,"E":2.98,"D":1.34},{"o":"d","P":90,"E":3.12,"D":1.36},{"o":"d","P":90,"E":3.3,"D":1.62},{"o":"d","P":90,"E":3.44,"D":1.06},{"o":"d","P":90,"E":3.62,"D":0.07},{"o":"d","P":90,"E":3.8,"D":0.16},{"o":"d","P":90,"E":3.98,"D":0.32},{"o":"d","P":90,"E":4.12,"D":0.63},{"o":"d","P":90,"E":4.26,"D":0.94},{"o":"d","P":90,"E":4.39,"D":0.78},{"o":"d","P":90,"E":4.57,"D":0.44},{"o":"d","P":90,"E":4.76,"D":0.13},{"o":"d","P":90,"E":4.94,"D":0},{"o":"d","P":90,"E":5,"D":0},
{"o":"d","P":180,"E":-5,"D":0.28},{"o":"d","P":180,"E":-4.7,"D":0.25},{"o":"d","P":180,"E":-4.5,"D":0.3},{"o":"d","P":180,"E":-4.3,"D":0.28},{"o":"d","P":180,"E":-4.1,"D":0.22},{"o":"d","P":180,"E":-3.9,"D":0.28},{"o":"d","P":180,"E":-3.7,"D":0.3},{"o":"d","P":180,"E":-3.5,"D":0.25},{"o":"d","P":180,"E":-3.3,"D":0.45},{"o":"d","P":180,"E":-3.1,"D":0.38},{"o":"d","P":180,"E":-2.9,"D":0.42},{"o":"d","P":180,"E":-2.7,"D":0.38},{"o":"d","P":180,"E":-2.5,"D":0.45},{"o":"d","P":180,"E":-2.3,"D":0.35},{"o":"d","P":180,"E":-2.1,"D":0.5},{"o":"d","P":180,"E":-1.9,"D":0.45},{"o":"d","P":180,"E":-1.7,"D":0.3},{"o":"d","P":180,"E":-1.5,"D":0.25},{"o":"d","P":180,"E":-1.3,"D":0.3},{"o":"d","P":180,"E":-1.1,"D":0.35},{"o":"d","P":180,"E":-0.9,"D":0.45},{"o":"d","P":180,"E":-0.7,"D":0.5},{"o":"d","P":180,"E":-0.55,"D":0.3},{"o":"d","P":180,"E":-0.4,"D":0.15},{"o":"d","P":180,"E":-0.25,"D":0.05},{"o":"d","P":180,"E":-0.1,"D":0.15},{"o":"d","P":180,"E":0.1,"D":0.25},{"o":"d","P":180,"E":0.3,"D":0.3},{"o":"d","P":180,"E":0.5,"D":0.35},{"o":"d","P":180,"E":0.7,"D":0.55},{"o":"d","P":180,"E":0.9,"D":0.6},{"o":"d","P":180,"E":1.1,"D":0.45},{"o":"d","P":180,"E":1.3,"D":0.55},{"o":"d","P":180,"E":1.45,"D":1.1},{"o":"d","P":180,"E":1.6,"D":0.8},{"o":"d","P":180,"E":1.8,"D":0.95},{"o":"d","P":180,"E":2.0,"D":1.25},{"o":"d","P":180,"E":2.15,"D":1.35},{"o":"d","P":180,"E":2.3,"D":1.2},{"o":"d","P":180,"E":2.4,"D":1.9},{"o":"d","P":180,"E":2.55,"D":2.5},{"o":"d","P":180,"E":2.7,"D":2.0},{"o":"d","P":180,"E":2.85,"D":1.6},{"o":"d","P":180,"E":3.0,"D":1.4},{"o":"d","P":180,"E":3.2,"D":1.45},{"o":"d","P":180,"E":3.4,"D":1.3},{"o":"d","P":180,"E":3.55,"D":1.25},{"o":"d","P":180,"E":3.7,"D":1.2},{"o":"d","P":180,"E":3.85,"D":0.7},{"o":"d","P":180,"E":4.0,"D":0.5},{"o":"d","P":180,"E":4.15,"D":0.9},{"o":"d","P":180,"E":4.3,"D":1.05},{"o":"d","P":180,"E":4.45,"D":0.75},{"o":"d","P":180,"E":4.6,"D":0.45},{"o":"d","P":180,"E":4.8,"D":0.15},{"o":"d","P":180,"E":5,"D":0}
],
"occ":[
{"ph":"e","el":"Cs","P":30,"v":0.22},{"ph":"e","el":"Cs","P":60,"v":0.35},{"ph":"e","el":"Cs","P":90,"v":0.466},{"ph":"e","el":"Cs","P":110,"v":0.53},{"ph":"e","el":"Cs","P":130,"v":0.597},{"ph":"e","el":"Cs","P":150,"v":0.668},{"ph":"e","el":"Cs","P":170,"v":0.727},{"ph":"e","el":"Cs","P":190,"v":0.8},
{"ph":"e","el":"I","P":30,"v":0.058},{"ph":"e","el":"I","P":60,"v":0.107},{"ph":"e","el":"I","P":90,"v":0.151},{"ph":"e","el":"I","P":110,"v":0.178},{"ph":"e","el":"I","P":130,"v":0.206},{"ph":"e","el":"I","P":150,"v":0.236},{"ph":"e","el":"I","P":170,"v":0.268},{"ph":"e","el":"I","P":190,"v":0.29},
{"ph":"d","el":"Cs","P":0,"v":0.022},{"ph":"d","el":"Cs","P":20,"v":0.1},{"ph":"d","el":"Cs","P":40,"v":0.174},{"ph":"d","el":"Cs","P":60,"v":0.248},{"ph":"d","el":"Cs","P":80,"v":0.3},
{"ph":"d","el":"I","P":0,"v":0.0},{"ph":"d","el":"I","P":20,"v":0.022},{"ph":"d","el":"I","P":40,"v":0.048},{"ph":"d","el":"I","P":60,"v":0.069},{"ph":"d","el":"I","P":80,"v":0.089}
],
"fit":[
{"ph":"e","el":"Cs","P":26,"v":0.227},{"ph":"e","el":"Cs","P":193.5,"v":0.796},
{"ph":"e","el":"I","P":26,"v":0.061},{"ph":"e","el":"I","P":193.5,"v":0.268},
{"ph":"d","el":"Cs","P":0,"v":0.014},{"ph":"d","el":"Cs","P":90.9,"v":0.333},
{"ph":"d","el":"I","P":0,"v":-0.005},{"ph":"d","el":"I","P":89.8,"v":0.086}
]
},
"concat":[
 {"width":365,"height":211,
  "layer":[
   {"data":{"name":"aCs"},"mark":{"type":"line","clip":true},"encoding":{
     "x":{"field":"E","type":"quantitative","scale":{"domain":[-5,5],"nice":false,"zero":false},"axis":{"values":[-5,-4,-3,-2,-1,0,1,2,3,4,5],"labels":false,"title":null}},
     "y":{"field":"D","type":"quantitative","scale":{"domain":[0,3.9],"nice":false,"zero":false},"axis":{"values":[0,0.5,1,1.5,2,2.5,3,3.5],"labelExpr":"datum.value % 1 === 0 ? '' + datum.value : ''","labelPadding":15,"title":null}},
     "color":{"field":"o","type":"nominal","scale":{"domain":["s","p","d"],"range":["#000000","#0000ff","#ff0000"]},"legend":null}}},
   {"data":{"name":"aCs"},"mark":{"type":"point","opacity":0},"encoding":{
     "x":{"field":"E","type":"quantitative","axis":{"orient":"top","values":[-5,-4,-3,-2,-1,0,1,2,3,4,5],"labels":false,"title":null}},
     "y":{"field":"D","type":"quantitative","axis":{"orient":"right","values":[0,0.5,1,1.5,2,2.5,3,3.5],"labels":false,"title":null}}}},
   {"data":{"values":[{}]},"mark":{"type":"text","fontSize":26,"fontWeight":"bold","color":"#000000"},"encoding":{"x":{"datum":-8.13,"axis":null},"y":{"datum":3.75,"axis":null},"text":{"value":"a"}}},
   {"data":{"values":[{}]},"mark":{"type":"text","fontStyle":"italic","color":"#c9631a"},"encoding":{"x":{"datum":-4.29,"axis":null},"y":{"datum":3.12,"axis":null},"text":{"value":"Pnma"}}},
   {"data":{"values":[{}]},"mark":{"type":"text","font":"Liberation Serif","fontSize":26,"color":"#c9631a"},"encoding":{"x":{"datum":-2.42,"axis":null},"y":{"datum":3.12,"axis":null},"text":{"value":"(δ)"}}},
   {"data":{"values":[{}]},"mark":{"type":"text","color":"#c9631a"},"encoding":{"x":{"datum":-4.42,"axis":null},"y":{"datum":2.56,"axis":null},"text":{"value":"0 GPa"}}},
   {"data":{"values":[{}]},"mark":{"type":"rule","color":"#000000"},"encoding":{"x":{"datum":0.63,"axis":null},"x2":{"datum":1.21},"y":{"datum":3.15,"axis":null}}},
   {"data":{"values":[{}]},"mark":{"type":"rule","color":"#0000ff"},"encoding":{"x":{"datum":0.63,"axis":null},"x2":{"datum":1.21},"y":{"datum":2.61,"axis":null}}},
   {"data":{"values":[{}]},"mark":{"type":"rule","color":"#ff0000"},"encoding":{"x":{"datum":0.63,"axis":null},"x2":{"datum":1.21},"y":{"datum":2.06,"axis":null}}},
   {"data":{"values":[{}]},"mark":{"type":"text","color":"#000000"},"encoding":{"x":{"datum":1.4,"axis":null},"y":{"datum":3.08,"axis":null},"text":{"value":"Cs-6s"}}},
   {"data":{"values":[{}]},"mark":{"type":"text","color":"#0000ff"},"encoding":{"x":{"datum":1.4,"axis":null},"y":{"datum":2.49,"axis":null},"text":{"value":"Cs-5p"}}},
   {"data":{"values":[{}]},"mark":{"type":"text","color":"#ff0000"},"encoding":{"x":{"datum":1.4,"axis":null},"y":{"datum":1.95,"axis":null},"text":{"value":"Cs-5d"}}}
  ],
  "resolve":{"axis":{"x":"independent","y":"independent"}}},
 {"width":365,"height":211,
  "layer":[
   {"data":{"name":"bCs"},"transform":[{"filter":"datum.P == 90"}],"mark":{"type":"line","clip":true},"encoding":{
     "x":{"field":"E","type":"quantitative","scale":{"domain":[-5,5],"nice":false,"zero":false},"axis":{"values":[-5,-4,-3,-2,-1,0,1,2,3,4,5],"labels":false,"title":null}},
     "y":{"field":"D","type":"quantitative","scale":{"domain":[0,3.9],"nice":false,"zero":false},"axis":{"values":[0,0.5,1,1.5,2,2.5,3,3.5],"labelExpr":"datum.value % 1 === 0 ? '' + datum.value : ''","labelPadding":15,"title":null}},
     "color":{"field":"o","type":"nominal","scale":{"domain":["s","p","d"],"range":["#000000","#0000ff","#ff0000"]},"legend":null}}},
   {"data":{"name":"bCs"},"transform":[{"filter":"datum.P == 180"}],"mark":{"type":"line","clip":true,"strokeWidth":1.4,"strokeDash":[1.3,2.7]},"encoding":{
     "x":{"field":"E","type":"quantitative","axis":null},
     "y":{"field":"D","type":"quantitative","axis":null},
     "color":{"field":"o","type":"nominal","legend":null}}},
   {"data":{"name":"bCs"},"mark":{"type":"point","opacity":0},"encoding":{
     "x":{"field":"E","type":"quantitative","axis":{"orient":"top","values":[-5,-4,-3,-2,-1,0,1,2,3,4,5],"labels":false,"title":null}},
     "y":{"field":"D","type":"quantitative","axis":{"orient":"right","values":[0,0.5,1,1.5,2,2.5,3,3.5],"labels":false,"title":null}}}},
   {"data":{"values":[{}]},"mark":{"type":"text","fontSize":26,"fontWeight":"bold","color":"#000000"},"encoding":{"x":{"datum":-6.66,"axis":null},"y":{"datum":3.77,"axis":null},"text":{"value":"b"}}},
   {"data":{"values":[{}]},"mark":{"type":"text","fontStyle":"italic","color":"#000000"},"encoding":{"x":{"datum":-2.58,"axis":null},"y":{"datum":3.2,"axis":null},"text":{"value":"P"}}},
   {"data":{"values":[{}]},"mark":{"type":"text","color":"#000000"},"encoding":{"x":{"datum":-1.97,"axis":null},"y":{"datum":3.2,"axis":null},"text":{"value":"(GPa)"}}},
   {"data":{"values":[{}]},"mark":{"type":"text","color":"#000000"},"encoding":{"x":{"datum":-2.53,"axis":null},"y":{"datum":2.71,"axis":null},"text":{"value":"90"}}},
   {"data":{"values":[{}]},"mark":{"type":"text","color":"#000000"},"encoding":{"x":{"datum":-1.44,"axis":null},"y":{"datum":2.71,"axis":null},"text":{"value":"180"}}},
   {"data":{"values":[{}]},"mark":{"type":"rule","color":"#000000"},"encoding":{"x":{"datum":-2.58,"axis":null},"x2":{"datum":-1.9},"y":{"datum":2.43,"axis":null}}},
   {"data":{"values":[{}]},"mark":{"type":"rule","color":"#0000ff"},"encoding":{"x":{"datum":-2.58,"axis":null},"x2":{"datum":-1.9},"y":{"datum":1.88,"axis":null}}},
   {"data":{"values":[{}]},"mark":{"type":"rule","color":"#ff0000"},"encoding":{"x":{"datum":-2.58,"axis":null},"x2":{"datum":-1.9},"y":{"datum":1.32,"axis":null}}},
   {"data":{"values":[{}]},"mark":{"type":"rule","color":"#000000","strokeWidth":1.4,"strokeDash":[1.3,2.7]},"encoding":{"x":{"datum":-1.3,"axis":null},"x2":{"datum":-0.67},"y":{"datum":2.43,"axis":null}}},
   {"data":{"values":[{}]},"mark":{"type":"rule","color":"#0000ff","strokeWidth":1.4,"strokeDash":[1.3,2.7]},"encoding":{"x":{"datum":-1.3,"axis":null},"x2":{"datum":-0.67},"y":{"datum":1.88,"axis":null}}},
   {"data":{"values":[{}]},"mark":{"type":"rule","color":"#ff0000","strokeWidth":1.4,"strokeDash":[1.3,2.7]},"encoding":{"x":{"datum":-1.3,"axis":null},"x2":{"datum":-0.67},"y":{"datum":1.32,"axis":null}}},
   {"data":{"values":[{}]},"mark":{"type":"text","color":"#000000"},"encoding":{"x":{"datum":-0.27,"axis":null},"y":{"datum":2.32,"axis":null},"text":{"value":"Cs-6s"}}},
   {"data":{"values":[{}]},"mark":{"type":"text","color":"#0000ff"},"encoding":{"x":{"datum":-0.27,"axis":null},"y":{"datum":1.78,"axis":null},"text":{"value":"Cs-5p"}}},
   {"data":{"values":[{}]},"mark":{"type":"text","color":"#ff0000"},"encoding":{"x":{"datum":-0.27,"axis":null},"y":{"datum":1.26,"axis":null},"text":{"value":"Cs-5d"}}},
   {"data":{"values":[{}]},"mark":{"type":"text","fontStyle":"italic","color":"#000000"},"encoding":{"x":{"datum":1.43,"axis":null},"y":{"datum":3.17,"axis":null},"text":{"value":"Pmn"}}},
   {"data":{"values":[{}]},"mark":{"type":"text","font":"Liberation Serif","color":"#000000"},"encoding":{"x":{"datum":2.8,"axis":null},"y":{"datum":3.17,"axis":null},"text":{"value":"2"}}},
   {"data":{"values":[{}]},"mark":{"type":"text","font":"Liberation Serif","fontSize":17,"color":"#000000"},"encoding":{"x":{"datum":3.16,"axis":null},"y":{"datum":2.96,"axis":null},"text":{"value":"1"}}},
   {"data":{"values":[{}]},"mark":{"type":"text","font":"Liberation Serif","color":"#000000"},"encoding":{"x":{"datum":3.57,"axis":null},"y":{"datum":3.17,"axis":null},"text":{"value":"(ε)"}}}
  ],
  "resolve":{"axis":{"x":"independent","y":"independent"}}},
 {"width":365,"height":211,
  "layer":[
   {"data":{"name":"aPb"},"mark":{"type":"line","clip":true},"encoding":{
     "x":{"field":"E","type":"quantitative","scale":{"domain":[-5,5],"nice":false,"zero":false},"axis":{"values":[-5,-4,-3,-2,-1,0,1,2,3,4,5],"labels":false,"title":null}},
     "y":{"field":"D","type":"quantitative","scale":{"domain":[0,3.9],"nice":false,"zero":false},"axis":{"values":[0,0.5,1,1.5,2,2.5,3,3.5],"labelExpr":"datum.value % 1 === 0 ? '' + datum.value : ''","labelPadding":15,"title":"Density of states","titlePadding":26}},
     "color":{"field":"o","type":"nominal","scale":{"domain":["s","p","d"],"range":["#000000","#0000ff","#ff0000"]},"legend":null}}},
   {"data":{"name":"aPb"},"mark":{"type":"point","opacity":0},"encoding":{
     "x":{"field":"E","type":"quantitative","axis":{"orient":"top","values":[-5,-4,-3,-2,-1,0,1,2,3,4,5],"labels":false,"title":null}},
     "y":{"field":"D","type":"quantitative","axis":{"orient":"right","values":[0,0.5,1,1.5,2,2.5,3,3.5],"labels":false,"title":null}}}},
   {"data":{"values":[{}]},"mark":{"type":"rule","color":"#000000"},"encoding":{"x":{"datum":-0.11,"axis":null},"x2":{"datum":0.49},"y":{"datum":3.27,"axis":null}}},
   {"data":{"values":[{}]},"mark":{"type":"rule","color":"#0000ff"},"encoding":{"x":{"datum":-0.11,"axis":null},"x2":{"datum":0.49},"y":{"datum":2.72,"axis":null}}},
   {"data":{"values":[{}]},"mark":{"type":"text","color":"#000000"},"encoding":{"x":{"datum":0.66,"axis":null},"y":{"datum":3.19,"axis":null},"text":{"value":"Pb-6s"}}},
   {"data":{"values":[{}]},"mark":{"type":"text","color":"#0000ff"},"encoding":{"x":{"datum":0.66,"axis":null},"y":{"datum":2.64,"axis":null},"text":{"value":"Pb-6p"}}}
  ],
  "resolve":{"axis":{"x":"independent","y":"independent"}}},
 {"width":365,"height":211,
  "layer":[
   {"data":{"name":"bPb"},"transform":[{"filter":"datum.P == 90"}],"mark":{"type":"line","clip":true},"encoding":{
     "x":{"field":"E","type":"quantitative","scale":{"domain":[-5,5],"nice":false,"zero":false},"axis":{"values":[-5,-4,-3,-2,-1,0,1,2,3,4,5],"labels":false,"title":null}},
     "y":{"field":"D","type":"quantitative","scale":{"domain":[0,3.9],"nice":false,"zero":false},"axis":{"values":[0,0.5,1,1.5,2,2.5,3,3.5],"labelExpr":"datum.value % 1 === 0 ? '' + datum.value : ''","labelPadding":15,"title":"Density of states","titlePadding":26}},
     "color":{"field":"o","type":"nominal","scale":{"domain":["s","p","d"],"range":["#000000","#0000ff","#ff0000"]},"legend":null}}},
   {"data":{"name":"bPb"},"transform":[{"filter":"datum.P == 180"}],"mark":{"type":"line","clip":true,"strokeWidth":1.4,"strokeDash":[1.3,2.7]},"encoding":{
     "x":{"field":"E","type":"quantitative","axis":null},
     "y":{"field":"D","type":"quantitative","axis":null},
     "color":{"field":"o","type":"nominal","legend":null}}},
   {"data":{"name":"bPb"},"mark":{"type":"point","opacity":0},"encoding":{
     "x":{"field":"E","type":"quantitative","axis":{"orient":"top","values":[-5,-4,-3,-2,-1,0,1,2,3,4,5],"labels":false,"title":null}},
     "y":{"field":"D","type":"quantitative","axis":{"orient":"right","values":[0,0.5,1,1.5,2,2.5,3,3.5],"labels":false,"title":null}}}},
   {"data":{"values":[{}]},"mark":{"type":"rule","color":"#000000"},"encoding":{"x":{"datum":-4.22,"axis":null},"x2":{"datum":-3.63},"y":{"datum":3.1,"axis":null}}},
   {"data":{"values":[{}]},"mark":{"type":"rule","color":"#0000ff"},"encoding":{"x":{"datum":-4.22,"axis":null},"x2":{"datum":-3.63},"y":{"datum":2.55,"axis":null}}},
   {"data":{"values":[{}]},"mark":{"type":"text","color":"#000000"},"encoding":{"x":{"datum":-3.44,"axis":null},"y":{"datum":3.02,"axis":null},"text":{"value":"Pb-6s"}}},
   {"data":{"values":[{}]},"mark":{"type":"text","color":"#0000ff"},"encoding":{"x":{"datum":-3.44,"axis":null},"y":{"datum":2.49,"axis":null},"text":{"value":"Pb-6p"}}}
  ],
  "resolve":{"axis":{"x":"independent","y":"independent"}}},
 {"width":365,"height":211,
  "layer":[
   {"data":{"name":"aI"},"mark":{"type":"line","clip":true},"encoding":{
     "x":{"field":"E","type":"quantitative","scale":{"domain":[-5,5],"nice":false,"zero":false},"axis":{"values":[-5,-4,-3,-2,-1,0,1,2,3,4,5],"labelExpr":"datum.value % 2 === 0 ? '' + datum.value : ''","labelPadding":17,"title":"Energy (eV)","titlePadding":3}},
     "y":{"field":"D","type":"quantitative","scale":{"domain":[0,3.9],"nice":false,"zero":false},"axis":{"values":[0,0.5,1,1.5,2,2.5,3,3.5],"labelExpr":"datum.value % 1 === 0 ? '' + datum.value : ''","labelPadding":15,"title":null}},
     "color":{"field":"o","type":"nominal","scale":{"domain":["s","p","d"],"range":["#000000","#0000ff","#ff0000"]},"legend":null}}},
   {"data":{"name":"aI"},"mark":{"type":"point","opacity":0},"encoding":{
     "x":{"field":"E","type":"quantitative","axis":{"orient":"top","values":[-5,-4,-3,-2,-1,0,1,2,3,4,5],"labels":false,"title":null}},
     "y":{"field":"D","type":"quantitative","axis":{"orient":"right","values":[0,0.5,1,1.5,2,2.5,3,3.5],"labels":false,"title":null}}}},
   {"data":{"values":[{}]},"mark":{"type":"text","fontSize":26,"fontWeight":"bold","color":"#000000"},"encoding":{"x":{"datum":-8.13,"axis":null},"y":{"datum":-0.705,"axis":null},"text":{"value":"c"}}},
   {"data":{"values":[{}]},"mark":{"type":"rule","color":"#000000"},"encoding":{"x":{"datum":0.77,"axis":null},"x2":{"datum":1.35},"y":{"datum":3.14,"axis":null}}},
   {"data":{"values":[{}]},"mark":{"type":"rule","color":"#0000ff"},"encoding":{"x":{"datum":0.77,"axis":null},"x2":{"datum":1.35},"y":{"datum":2.57,"axis":null}}},
   {"data":{"values":[{}]},"mark":{"type":"rule","color":"#ff0000"},"encoding":{"x":{"datum":0.77,"axis":null},"x2":{"datum":1.35},"y":{"datum":2.0,"axis":null}}},
   {"data":{"values":[{}]},"mark":{"type":"text","color":"#000000"},"encoding":{"x":{"datum":1.54,"axis":null},"y":{"datum":3.05,"axis":null},"text":{"value":"I-5s"}}},
   {"data":{"values":[{}]},"mark":{"type":"text","color":"#0000ff"},"encoding":{"x":{"datum":1.54,"axis":null},"y":{"datum":2.49,"axis":null},"text":{"value":"I-5p"}}},
   {"data":{"values":[{}]},"mark":{"type":"text","color":"#ff0000"},"encoding":{"x":{"datum":1.54,"axis":null},"y":{"datum":1.94,"axis":null},"text":{"value":"I-5d"}}}
  ],
  "resolve":{"axis":{"x":"independent","y":"independent"}}},
 {"width":365,"height":211,
  "layer":[
   {"data":{"name":"bI"},"transform":[{"filter":"datum.P == 90"}],"mark":{"type":"line","clip":true},"encoding":{
     "x":{"field":"E","type":"quantitative","scale":{"domain":[-5,5],"nice":false,"zero":false},"axis":{"values":[-5,-4,-3,-2,-1,0,1,2,3,4,5],"labelExpr":"datum.value % 2 === 0 ? '' + datum.value : ''","labelPadding":17,"title":"Energy (eV)","titlePadding":3}},
     "y":{"field":"D","type":"quantitative","scale":{"domain":[0,3.9],"nice":false,"zero":false},"axis":{"values":[0,0.5,1,1.5,2,2.5,3,3.5],"labelExpr":"datum.value % 1 === 0 ? '' + datum.value : ''","labelPadding":15,"title":null}},
     "color":{"field":"o","type":"nominal","scale":{"domain":["s","p","d"],"range":["#000000","#0000ff","#ff0000"]},"legend":null}}},
   {"data":{"name":"bI"},"transform":[{"filter":"datum.P == 180"}],"mark":{"type":"line","clip":true,"strokeWidth":1.4,"strokeDash":[1.3,2.7]},"encoding":{
     "x":{"field":"E","type":"quantitative","axis":null},
     "y":{"field":"D","type":"quantitative","axis":null},
     "color":{"field":"o","type":"nominal","legend":null}}},
   {"data":{"name":"bI"},"mark":{"type":"point","opacity":0},"encoding":{
     "x":{"field":"E","type":"quantitative","axis":{"orient":"top","values":[-5,-4,-3,-2,-1,0,1,2,3,4,5],"labels":false,"title":null}},
     "y":{"field":"D","type":"quantitative","axis":{"orient":"right","values":[0,0.5,1,1.5,2,2.5,3,3.5],"labels":false,"title":null}}}},
   {"data":{"values":[{}]},"mark":{"type":"rule","color":"#000000"},"encoding":{"x":{"datum":-3.9,"axis":null},"x2":{"datum":-3.31},"y":{"datum":2.15,"axis":null}}},
   {"data":{"values":[{}]},"mark":{"type":"rule","color":"#0000ff"},"encoding":{"x":{"datum":-3.9,"axis":null},"x2":{"datum":-3.31},"y":{"datum":1.6,"axis":null}}},
   {"data":{"values":[{}]},"mark":{"type":"rule","color":"#ff0000"},"encoding":{"x":{"datum":-3.9,"axis":null},"x2":{"datum":-3.31},"y":{"datum":1.04,"axis":null}}},
   {"data":{"values":[{}]},"mark":{"type":"text","color":"#000000"},"encoding":{"x":{"datum":-3.11,"axis":null},"y":{"datum":2.1,"axis":null},"text":{"value":"I-5s"}}},
   {"data":{"values":[{}]},"mark":{"type":"text","color":"#0000ff"},"encoding":{"x":{"datum":-3.11,"axis":null},"y":{"datum":1.54,"axis":null},"text":{"value":"I-5p"}}},
   {"data":{"values":[{}]},"mark":{"type":"text","color":"#ff0000"},"encoding":{"x":{"datum":-3.11,"axis":null},"y":{"datum":0.98,"axis":null},"text":{"value":"I-5d"}}}
  ],
  "resolve":{"axis":{"x":"independent","y":"independent"}}},
 {"width":365,"height":77,"view":{"stroke":null},"data":{"values":[{}]},"mark":{"type":"text"},"encoding":{"text":{"value":""}}},
 {"width":365,"height":77,"view":{"stroke":null},"data":{"values":[{}]},"mark":{"type":"text"},"encoding":{"text":{"value":""}}},
 {"width":365,"height":215,"view":{"stroke":null},
  "layer":[
   {"data":{"name":"fit"},"mark":{"type":"line","strokeWidth":1.6},"encoding":{
     "x":{"field":"P","type":"quantitative","scale":{"domain":[-2.7,200],"range":[0,826],"nice":false,"zero":false},"axis":{"domain":true,"values":[0,25,50,75,100,125,150,175,200],"labelExpr":"datum.value % 50 === 0 ? '' + datum.value : ''","labelPadding":5,"title":"Pressure (GPa)","titlePadding":10}},
     "y":{"field":"v","type":"quantitative","scale":{"domain":[-0.1,0.9],"nice":false,"zero":false},"axis":{"domain":true,"values":[0,0.2,0.4,0.6,0.8],"labelExpr":"round(datum.value*10) % 4 === 0 ? format(datum.value, '.1f') : ''","labelPadding":14,"title":"5d state occupation (e/atom)","titlePadding":10}},
     "stroke":{"field":"ph","type":"nominal","scale":{"domain":["d","e"],"range":["#c9631a","#000000"]},"legend":null},
     "detail":{"field":"el","type":"nominal"}}},
   {"data":{"name":"occ"},"mark":{"type":"point","filled":true,"size":125,"opacity":1,"strokeWidth":0},"encoding":{
     "x":{"field":"P","type":"quantitative","axis":null},
     "y":{"field":"v","type":"quantitative","axis":null},
     "fill":{"field":"ph","type":"nominal","scale":{"domain":["d","e"],"range":["#c9631a","#000000"]},"legend":null},
     "shape":{"field":"el","type":"nominal","scale":{"domain":["Cs","I"],"range":["square","circle"]},"legend":null}}},
   {"data":{"name":"occ"},"mark":{"type":"point","opacity":0},"encoding":{
     "x":{"field":"P","type":"quantitative","axis":{"orient":"top","domain":true,"values":[0,25,50,75,100,125,150,175,200],"labels":false,"title":null}},
     "y":{"field":"v","type":"quantitative","axis":{"orient":"right","domain":true,"offset":461,"values":[0,0.2,0.4,0.6,0.8],"labels":false,"title":null}}}},
   {"data":{"values":[{}]},"mark":{"type":"rule","color":"#ff0000","strokeWidth":1.8,"strokeDash":[6,4]},"encoding":{"x":{"datum":30,"axis":null},"y":{"datum":-0.1,"axis":null},"y2":{"datum":0.4}}},
   {"data":{"values":[{}]},"mark":{"type":"text","color":"#c9631a"},"encoding":{"x":{"datum":0,"axis":null},"y":{"datum":0.749,"axis":null},"text":{"value":"Orange: insulating"}}},
   {"data":{"values":[{}]},"mark":{"type":"text","fontStyle":"italic","color":"#c9631a"},"encoding":{"x":{"datum":50.3,"axis":null},"y":{"datum":0.749,"axis":null},"text":{"value":"Pnma"}}},
   {"data":{"values":[{}]},"mark":{"type":"text","font":"Liberation Serif","fontSize":26,"color":"#c9631a"},"encoding":{"x":{"datum":68,"axis":null},"y":{"datum":0.749,"axis":null},"text":{"value":"(δ)"}}},
   {"data":{"values":[{}]},"mark":{"type":"text","color":"#000000"},"encoding":{"x":{"datum":5.9,"axis":null},"y":{"datum":0.593,"axis":null},"text":{"value":"Black: metallic"}}},
   {"data":{"values":[{}]},"mark":{"type":"text","fontStyle":"italic","color":"#000000"},"encoding":{"x":{"datum":45.9,"axis":null},"y":{"datum":0.593,"axis":null},"text":{"value":"Pmn"}}},
   {"data":{"values":[{}]},"mark":{"type":"text","font":"Liberation Serif","color":"#000000"},"encoding":{"x":{"datum":57.8,"axis":null},"y":{"datum":0.593,"axis":null},"text":{"value":"2"}}},
   {"data":{"values":[{}]},"mark":{"type":"text","font":"Liberation Serif","fontSize":17,"color":"#000000"},"encoding":{"x":{"datum":61.1,"axis":null},"y":{"datum":0.551,"axis":null},"text":{"value":"1"}}},
   {"data":{"values":[{}]},"mark":{"type":"text","font":"Liberation Serif","color":"#000000"},"encoding":{"x":{"datum":64.8,"axis":null},"y":{"datum":0.593,"axis":null},"text":{"value":"(ε)"}}},
   {"data":{"values":[{}]},"mark":{"type":"text","align":"center","color":"#000000"},"encoding":{"x":{"datum":108,"axis":null},"y":{"datum":0.621,"axis":null},"text":{"value":"Cs"}}},
   {"data":{"values":[{}]},"mark":{"type":"text","align":"center","color":"#000000"},"encoding":{"x":{"datum":107.8,"axis":null},"y":{"datum":0.282,"axis":null},"text":{"value":"I"}}}
  ],
  "resolve":{"axis":{"x":"independent","y":"independent"}}}
],
"columns":2,
"align":"none",
"spacing":{"row":0,"column":96},
"bounds":"flush"
}
